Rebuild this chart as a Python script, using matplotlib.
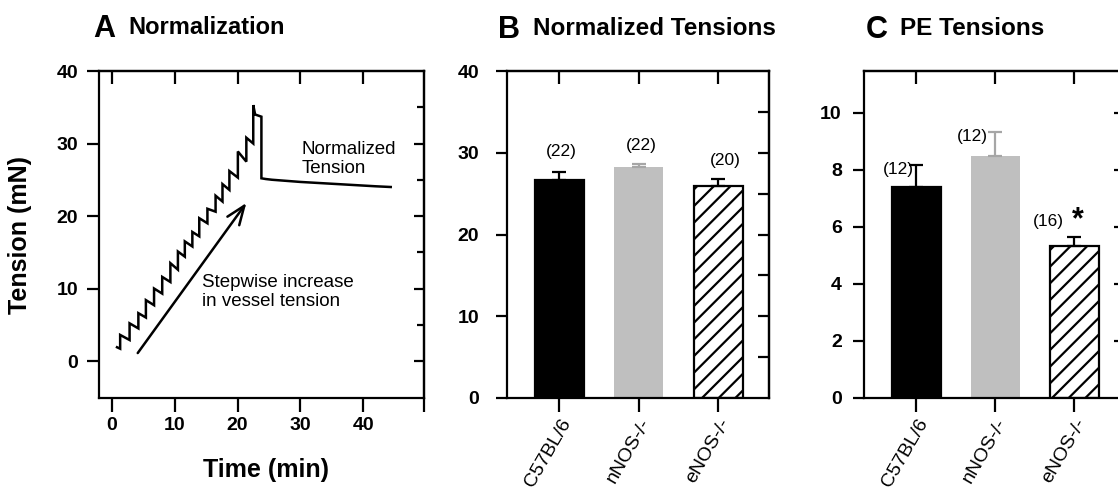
import matplotlib
matplotlib.use("Agg")
import matplotlib.pyplot as plt

plt.rcParams['font.family'] = ['Liberation Sans', 'DejaVu Sans']
plt.rcParams['hatch.linewidth'] = 1.6

# ---------------- data ----------------
# Panel A trace: each tooth = (rise time, level before rise, peak after rise)
tooth_t = [1.3, 2.8, 4.2, 5.4, 6.7, 8.0, 9.3, 10.5, 11.6, 12.8, 13.9, 15.2,
           16.5, 17.6, 18.7, 20.05, 21.4, 22.5]
tooth_base = [1.7, 2.9, 4.5, 6.0, 7.7, 9.3, 10.9, 12.6, 14.4, 15.8, 17.2, 19.0,
              20.6, 22.0, 23.6, 25.3, 27.5, 30.0]
tooth_peak = [3.6, 5.2, 6.6, 8.4, 10.0, 11.6, 13.5, 15.1, 16.5, 17.8, 19.7, 21.0,
              22.8, 24.4, 26.2, 28.9, 30.8, 35.3]
start_t, start_y = 0.8, 1.9
tail_t = [22.8, 23.8, 23.8, 24.5, 25.5, 27.0, 28.5, 30.0, 32.0, 34.0, 36.0, 38.0, 40.0, 42.0, 44.4]
tail_y = [34.0, 33.7, 25.2, 25.1, 25.0, 24.9, 24.8, 24.7, 24.6, 24.5, 24.4, 24.3, 24.2, 24.1, 24.0]

arrow_start = (4.1, 1.1)
arrow_end = (21.4, 21.8)

categories = ['C57BL/6', 'nNOS-/-', 'eNOS-/-']
b_means = [26.7, 28.2, 25.9]
b_errs = [1.0, 0.4, 0.85]
b_n = ['(22)', '(22)', '(20)']
c_means = [7.4, 8.5, 5.33]
c_errs = [0.78, 0.82, 0.31]
c_n = ['(12)', '(12)', '(16)']

# ---------------- figure ----------------
W, H = 1118, 492
fig = plt.figure(figsize=(W / 100, H / 100), dpi=100)


def px_axes(l, r, t, b):
    return fig.add_axes([l / W, (H - b) / H, (r - l) / W, (b - t) / H])


SPW = 1.6
TICKFS = 14
bar_colors = ['black', '#bfbfbf', 'white']
err_colors = ['black', '#a6a6a6', 'black']


def style_spines(ax):
    for s in ax.spines.values():
        s.set_linewidth(SPW)
        s.set_color('black')


# ---------- Panel A ----------
axA = px_axes(99, 424, 71, 398)
style_spines(axA)
tt = [start_t]
yy = [start_y]
for t, b, p in zip(tooth_t, tooth_base, tooth_peak):
    tt += [t, t]
    yy += [b, p]
tt += tail_t
yy += tail_y
axA.plot(tt, yy, color='black', lw=1.8, solid_joinstyle='miter')
axA.set_xlim(-2.07, 49.7)
axA.set_ylim(-5.1, 40)
axA.set_xticks([0, 10, 20, 30, 40, 49.7])
axA.set_xticklabels(['0', '10', '20', '30', '40', ''])
axA.set_yticks([0, 10, 20, 30, 40])
axA.tick_params(axis='y', direction='out', length=9, width=SPW, pad=6,
                labelsize=TICKFS)
axA.tick_params(axis='x', direction='out', length=10, width=SPW, pad=4,
                labelsize=TICKFS)
for lab in axA.get_xticklabels() + axA.get_yticklabels():
    lab.set_fontweight('bold')
axA.set_ylabel('Tension (mN)', fontsize=18, fontweight='bold')
axA.yaxis.set_label_coords(-0.205, 0.5)
axA.set_xlabel('Time (min)', fontsize=18, fontweight='bold')
axA.xaxis.set_label_coords(0.514, -0.185)
secAy = axA.secondary_yaxis('right')
secAy.set_yticks([0, 10, 20, 30])
secAy.set_yticks([5, 15, 25, 35], minor=True)
secAy.tick_params(which='major', direction='in', length=7.5, width=SPW, labelright=False)
secAy.tick_params(which='minor', direction='in', length=5, width=SPW, labelright=False)
secAy.spines['right'].set_linewidth(SPW)
secAx = axA.secondary_xaxis('top')
secAx.set_xticks([0, 10, 20, 30, 40])
secAx.tick_params(direction='in', length=9, width=SPW, labeltop=False)
secAx.spines['top'].set_linewidth(SPW)

axA.annotate('', xy=arrow_end, xytext=arrow_start,
             arrowprops=dict(arrowstyle='->,head_length=0.9,head_width=0.35',
                             lw=1.8, color='black', mutation_scale=15,
                             shrinkA=0, shrinkB=0))
axA.text(30.2, 27.8, 'Normalized\nTension', fontsize=13.5, ha='left',
         va='center', linespacing=1.15)
axA.text(14.3, 9.5, 'Stepwise increase\nin vessel tension', fontsize=13.5,
         ha='left', va='center', linespacing=1.1)

fig.text(93 / W, (H - 37) / H, 'A', fontsize=22, fontweight='bold', va='baseline')
fig.text(128 / W, (H - 34) / H, 'Normalization', fontsize=17, fontweight='bold',
         va='baseline')


# ---------- bar panels ----------
def bar_panel(ax, means, errs, ylim, yticks, rticks, ypad):
    style_spines(ax)
    x = list(range(len(categories)))
    for i in x:
        ax.bar(i, means[i], width=0.62, color=bar_colors[i],
               edgecolor='black' if i != 1 else bar_colors[i],
               linewidth=SPW if i != 1 else 0,
               hatch='//' if i == 2 else None, zorder=2)
        ax.errorbar(i, means[i], yerr=[[0], [errs[i]]], fmt='none',
                    ecolor=err_colors[i], elinewidth=SPW, capsize=5,
                    capthick=SPW, zorder=3)
    ax.set_xlim(-0.66, 2.64)
    ax.set_ylim(*ylim)
    ax.set_yticks(yticks)
    ax.set_xticks(x)
    ax.set_xticklabels(categories, rotation=60, ha='right', va='top',
                       rotation_mode='anchor', fontsize=14)
    ax.tick_params(axis='x', direction='out', length=10, width=SPW, pad=3)
    ax.tick_params(axis='y', direction='out', length=8, width=SPW, pad=ypad,
                   labelsize=TICKFS)
    for lab in ax.get_yticklabels():
        lab.set_fontweight('bold')
    sy = ax.secondary_yaxis('right')
    sy.set_yticks(rticks)
    sy.tick_params(direction='in', length=8, width=SPW, labelright=False)
    sy.spines['right'].set_linewidth(SPW)
    sx = ax.secondary_xaxis('top')
    sx.set_xticks(x)
    sx.tick_params(direction='in', length=9, width=SPW, labeltop=False)
    sx.spines['top'].set_linewidth(SPW)


axB = px_axes(507, 769, 71, 398)
bar_panel(axB, b_means, b_errs, (0, 40), [0, 10, 20, 30, 40],
          [5, 10, 15, 20, 25, 30, 35], 12)
b_label_x = [0.03, 1.03, 2.09]
b_label_y = [30.1, 30.9, 29.1]
for i in range(3):
    axB.text(b_label_x[i], b_label_y[i], b_n[i], ha='center', va='center',
             fontsize=12.5)
fig.text(498 / W, (H - 38) / H, 'B', fontsize=22, fontweight='bold', va='baseline')
fig.text(533 / W, (H - 35) / H, 'Normalized Tensions', fontsize=17.5,
         fontweight='bold', va='baseline')

axC = px_axes(864, 1125, 71, 398)
bar_panel(axC, c_means, c_errs, (0, 11.47), [0, 2, 4, 6, 8, 10],
          [2, 4, 6, 8, 10], 8)
c_label_x = [-0.23, 0.71, 1.67]
c_label_y = [8.0, 9.16, 6.2]
for i in range(3):
    axC.text(c_label_x[i], c_label_y[i], c_n[i], ha='center', va='center',
             fontsize=12.5)
axC.text(2.04, 6.25, '*', ha='center', va='center', fontsize=22,
         fontweight='bold')
fig.text(866 / W, (H - 38) / H, 'C', fontsize=22, fontweight='bold', va='baseline')
fig.text(900 / W, (H - 35) / H, 'PE Tensions', fontsize=17.5, fontweight='bold',
         va='baseline')

fig.savefig('out.png', dpi=100)
